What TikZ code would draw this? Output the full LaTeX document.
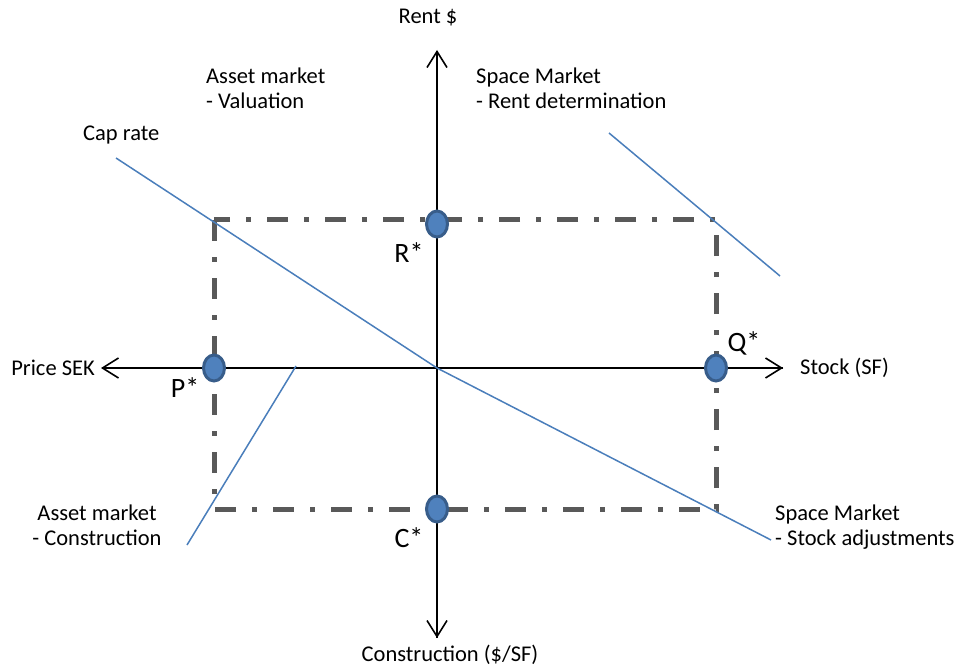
\documentclass[tikz,border=0pt]{standalone}
\usepackage{fontspec}
\setmainfont{Carlito}
\usetikzlibrary{arrows.meta,shapes.geometric}
\definecolor{curve}{RGB}{74,126,187}
\definecolor{rectgray}{RGB}{89,89,89}
\definecolor{dotfill}{RGB}{79,129,189}
\definecolor{dotedge}{RGB}{56,93,138}
\tikzset{
  axis/.style={line width=1.6pt, black, -{Straight Barb[length=16pt,width=20pt,line width=1.6pt]}},
  curveline/.style={line width=1.5pt, curve},
  eqrect/.style={line width=5pt, rectgray, dash pattern=on 21pt off 16pt on 5pt off 16pt},
  eqdot/.style={ellipse, draw=dotedge, fill=dotfill, line width=3pt, minimum width=21pt, minimum height=26pt, inner sep=0pt},
  lbl/.style={font=\fontsize{22.5}{25}\selectfont, inner sep=0pt, align=left},
  star/.style={font=\fontsize{28}{30}\selectfont, inner sep=0pt},
}
\begin{document}
\begin{tikzpicture}[x=1pt,y=-1pt]
\useasboundingbox (0,0) rectangle (957,668);
% coordinates
\coordinate (O) at (437,368);
\coordinate (ytop) at (437,50);
\coordinate (ybot) at (437,638);
\coordinate (xleft) at (101,368);
\coordinate (xright) at (783,368);
\coordinate (rtl) at (214,220);
\coordinate (rbr) at (716,509);
\coordinate (cap1) at (116,158);
\coordinate (st2) at (771,540);
\coordinate (rent1) at (609,133);
\coordinate (rent2) at (780,276);
\coordinate (con1) at (296,366);
\coordinate (con2) at (187,545);
% rectangle
\draw[eqrect] (rtl) rectangle (rbr);
% axes
\draw[axis] (ybot) -- (ytop);
\draw[axis] (O) -- (ybot);
\draw[axis] (xright) -- (xleft);
\draw[axis] (O) -- (xright);
% curves
\draw[curveline] (cap1) -- (O);
\draw[curveline] (O) -- (st2);
\draw[curveline] (rent1) -- (rent2);
\draw[curveline] (con1) -- (con2);
% dots
\node[eqdot] (R) at (437,224) {};
\node[eqdot] (P) at (214,368) {};
\node[eqdot] (Q) at (716,368) {};
\node[eqdot] (C) at (437,509) {};
% star labels
\node[star] (Rl) at (409,253) {R*};
\node[star] (Pl) at (185,388) {P*};
\node[star] (Ql) at (744,343) {Q*};
\node[star] (Cl) at (409,538) {C*};
% axis labels
\node[lbl] (rent) at (428,18) {Rent \$};
\node[lbl] (constr) at (450,655) {Construction (\$/SF)};
\node[lbl, anchor=east] (price) at (95,368) {Price SEK};
\node[lbl, anchor=west] (stock) at (800,368) {Stock (SF)};
% region labels
\node[lbl, anchor=west] (av) at (206,88) {Asset market\\- Valuation};
\node[lbl, anchor=west] (sr) at (476,88) {Space Market\\- Rent determination};
\node[lbl, anchor=west] (caprate) at (83,135) {Cap rate};
\node[lbl, align=center] (ac) at (97,525) {Asset market\\- Construction};
\node[lbl, anchor=west] (ss) at (775,527) {Space Market\\- Stock adjustments};
\end{tikzpicture}
\end{document}
